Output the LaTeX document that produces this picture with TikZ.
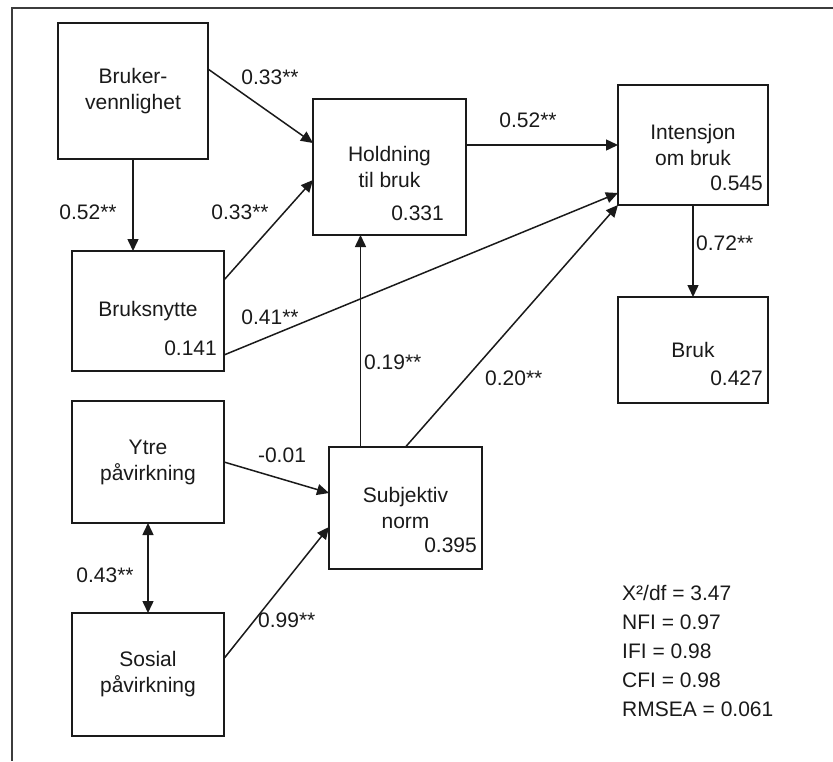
\documentclass[tikz,border=0pt]{standalone}
\usepackage{fontspec}
\setmainfont{Liberation Sans}
\usepackage{xcolor}
\definecolor{Ink}{HTML}{1A1A1A}
\definecolor{Frame}{HTML}{3C3C3C}
\usepackage{tikz}
\usetikzlibrary{arrows.meta,positioning,calc}
\tikzset{
  box/.style={draw=Ink,line width=1.9pt,fill=white,minimum width=152pt,minimum height=122pt,
    align=center,text=Ink,font=\fontsize{21pt}{26pt}\selectfont,inner sep=0pt,outer sep=0pt},
  val/.style={text=Ink,font=\fontsize{21pt}{24pt}\selectfont,inner sep=0pt},
  arrow/.style={-{Triangle[length=12pt,width=11pt]},line width=1.5pt,draw=Ink},
  both/.style={arrow,{Triangle[length=12pt,width=11pt]}-{Triangle[length=12pt,width=11pt]}},
  coef/.style={text=Ink,font=\fontsize{21pt}{24pt}\selectfont,inner sep=0pt},
  stats/.style={coef,align=left,font=\fontsize{21pt}{29pt}\selectfont}
}

\begin{document}
\begin{tikzpicture}[x=1pt,y=-1pt]
\useasboundingbox (0,0) rectangle (833,761);
\draw[draw=Frame,line width=2.2pt] (833,8) -- (12,8) -- (12,761);
\node[box,minimum width=150pt,minimum height=136pt] (bv) at (133,91) {Bruker-\\vennlighet};
\node[box,minimum height=120pt,below=92pt of bv,xshift=15pt] (bn) {Bruksnytte};
\node[box,below=30pt of bn] (yp) {Ytre\\påvirkning};
\node[box,minimum height=123pt,below=90pt of yp] (sp) {Sosial\\påvirkning};
\node[box,minimum width=153pt,minimum height=136pt] (hb) at (389.5,167) {Holdning\\til bruk};
\node[box,minimum width=153pt,below=212pt of hb,xshift=16pt] (sn) {Subjektiv\\norm};
\node[box,minimum width=150pt,minimum height=120pt,right=152pt of hb,yshift=22pt] (ib) {Intensjon\\om bruk};
\node[box,minimum width=150pt,minimum height=106pt,below=92pt of ib] (br) {Bruk};
% explained variance
\node[val,left=22pt of hb.south east,yshift=22pt] (hbv) {0.331};
\node[val,left=5pt of ib.south east,yshift=22pt] (ibv) {0.545};
\node[val,left=7pt of bn.south east,yshift=23pt] (bnv) {0.141};
\node[val,left=5pt of sn.south east,yshift=24pt] (snv) {0.395};
\node[val,left=5pt of br.south east,yshift=25pt] (brv) {0.427};
% paths
\draw[arrow] ([yshift=22pt]bv.east) -- ([yshift=24pt]hb.west);
\draw[arrow] (bv.south) -- (bv.south |- bn.north);
\draw[arrow] ([yshift=31pt]bn.east) -- ([yshift=-13pt]hb.west);
\draw[arrow] ([yshift=-44pt]bn.east) -- ([yshift=-48pt]ib.west);
\draw[arrow] (hb.east |- ib.west) -- (ib.west);
\draw[arrow] ([xshift=-45pt]sn.north) -- ([xshift=-45pt]sn.north |- hb.south);
\draw[arrow] (sn.north) -- (ib.south west);
\draw[arrow] (ib.south) -- (br.north);
\draw[arrow] (yp.east) -- ([yshift=15pt]sn.west);
\draw[both] (yp.south) -- (sp.north);
\draw[arrow] ([yshift=16pt]sp.east) -- ([yshift=-19pt]sn.west);
% coefficients
\node[coef] (c1) at (270,77) {0.33**};
\node[coef] (c2) at (88,212) {0.52**};
\node[coef] (c3) at (240,212) {0.33**};
\node[coef] (c4) at (270,317) {0.41**};
\node[coef,anchor=west] (c5) at (364,362) {0.19**};
\node[coef] (c6) at (528,120) {0.52**};
\node[coef,anchor=west] (c7) at (696,243) {0.72**};
\node[coef,anchor=west] (c8) at (485,378) {0.20**};
\node[coef] (c9) at (282,455) {-0.01};
\node[coef] (c10) at (105,575) {0.43**};
\node[coef,anchor=west] (c11) at (258,620) {0.99**};
\node[stats,anchor=north west] (fit) at (622,585) {X²/df = 3.47\\NFI = 0.97\\IFI = 0.98\\CFI = 0.98\\RMSEA = 0.061};
\end{tikzpicture}
\end{document}
